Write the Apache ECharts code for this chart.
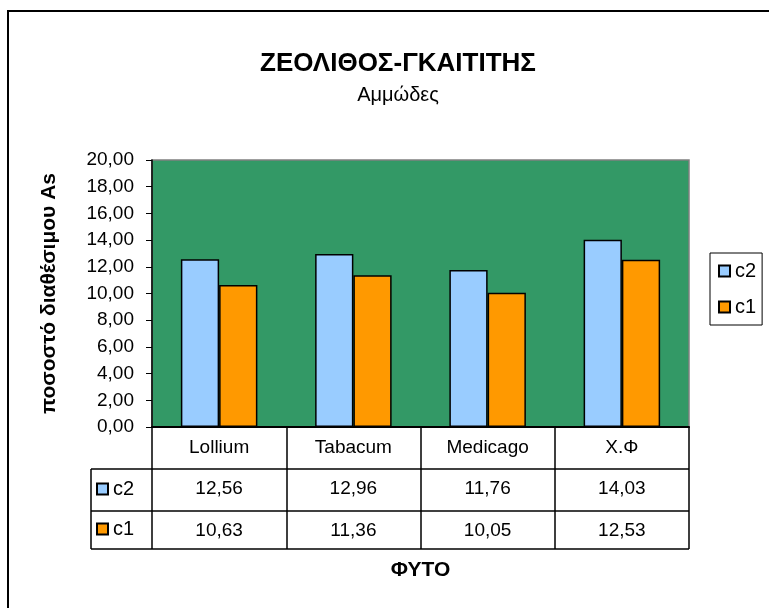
<!DOCTYPE html>
<html>
<head>
<meta charset="utf-8">
<script src="https://cdn.jsdelivr.net/npm/echarts@6/dist/echarts.min.js"></script>
<style>
  html, body { margin: 0; padding: 0; background: #fff; }
  #chart { width: 769px; height: 608px; }
</style>
</head>
<body>
<div id="chart"></div>
<script>
// data
const categories = ['Lollium', 'Tabacum', 'Medicago', 'Χ.Φ'];
const seriesNames = ['c2', 'c1'];
const c2Values = [12.56, 12.96, 11.76, 14.03];
const c1Values = [10.63, 11.36, 10.05, 12.53];
const yMin = 0, yMax = 20, yStep = 2;

const FONT = '"Liberation Sans", Arial, sans-serif';
const fmt = v => v.toFixed(2).replace('.', ',');   // greek decimal comma

// plot + data table geometry
const plotL = 152, plotR = 689, plotT = 160, plotB = 427;
const tableL = 91, rowY = [469, 511, 549];

const chart = echarts.init(document.getElementById('chart'), null, { renderer: 'canvas' });

const lineEl = (x1, y1, x2, y2) => ({
  type: 'line', silent: true, z: 50,
  shape: { x1, y1, x2, y2 },
  style: { stroke: '#000', lineWidth: 1.5 }
});

chart.setOption({
  animation: false,
  backgroundColor: '#fff',
  title: {
    text: 'ΖΕΟΛΙΘΟΣ-ΓΚΑΙΤΙΤΗΣ',
    subtext: 'Αμμώδες',
    left: 393, top: 46, textAlign: 'center', itemGap: 8,
    textStyle: { fontFamily: FONT, fontSize: 26, fontWeight: 'bold', color: '#000' },
    subtextStyle: { fontFamily: FONT, fontSize: 20, color: '#000' }
  },
  legend: [{
    data: seriesNames, orient: 'vertical', left: 710, top: 253,
    padding: [8, 6, 8, 8], itemGap: 16, itemWidth: 11, itemHeight: 11,
    icon: 'rect', backgroundColor: '#fff', borderColor: '#000', borderWidth: 1,
    textStyle: { fontFamily: FONT, fontSize: 20, color: '#000' }
  }, {
    // legend keys inside the data table
    data: seriesNames, orient: 'vertical', left: 96, top: 479,
    padding: 0, itemGap: 20, itemWidth: 11, itemHeight: 11, icon: 'rect',
    textStyle: { fontFamily: FONT, fontSize: 20, color: '#000' }
  }],
  grid: {
    left: plotL, right: 769 - plotR, top: plotT, bottom: 608 - plotB,
    show: true, backgroundColor: '#339966', borderColor: '#808080', borderWidth: 1.5
  },
  xAxis: {
    type: 'category', data: categories,
    name: 'ΦΥΤΟ', nameLocation: 'middle', nameGap: 133,
    nameTextStyle: { fontFamily: FONT, fontSize: 21, fontWeight: 'bold', color: '#000' },
    axisLine: { lineStyle: { color: '#000', width: 2 } },
    axisTick: { show: true, length: rowY[2] - plotB, lineStyle: { color: '#000', width: 1.5 } },
    axisLabel: {
      interval: 0, margin: 0, color: '#000',
      formatter: (v, i) => `{h|${v}}\n{v|${fmt(c2Values[i])}}\n{v|${fmt(c1Values[i])}}`,
      rich: {
        h: { fontFamily: FONT, fontSize: 19, lineHeight: 41, color: '#000' },
        v: { fontFamily: FONT, fontSize: 19, lineHeight: 42, color: '#000' }
      }
    }
  },
  yAxis: {
    type: 'value', min: yMin, max: yMax, interval: yStep,
    name: 'ποσοστό διαθέσιμου As', nameLocation: 'middle', nameGap: 92,
    nameTextStyle: { fontFamily: FONT, fontSize: 21, fontWeight: 'bold', color: '#000' },
    axisLine: { show: true, lineStyle: { color: '#000', width: 1.5 } },
    axisTick: { show: true, length: 6, lineStyle: { color: '#000' } },
    splitLine: { show: false },
    axisLabel: { fontFamily: FONT, fontSize: 19, color: '#000', margin: 18, formatter: v => fmt(v) }
  },
  series: [{
    name: 'c2', type: 'bar', data: c2Values, barGap: '0%', barCategoryGap: '43%',
    itemStyle: { color: '#99CCFF', borderColor: '#000', borderWidth: 1.5 }
  }, {
    name: 'c1', type: 'bar', data: c1Values,
    itemStyle: { color: '#FF9900', borderColor: '#000', borderWidth: 1.5 }
  }],
  graphic: [
    { // outer chart frame
      type: 'rect', silent: true, z: 60,
      shape: { x: 8, y: 11, width: 900, height: 800 },
      style: { fill: 'none', stroke: '#000', lineWidth: 2 }
    },
    lineEl(tableL, rowY[0], plotR, rowY[0]),
    lineEl(tableL, rowY[1], plotR, rowY[1]),
    lineEl(tableL, rowY[2], plotR, rowY[2]),
    lineEl(tableL, rowY[0], tableL, rowY[2])
  ]
});
</script>
</body>
</html>
